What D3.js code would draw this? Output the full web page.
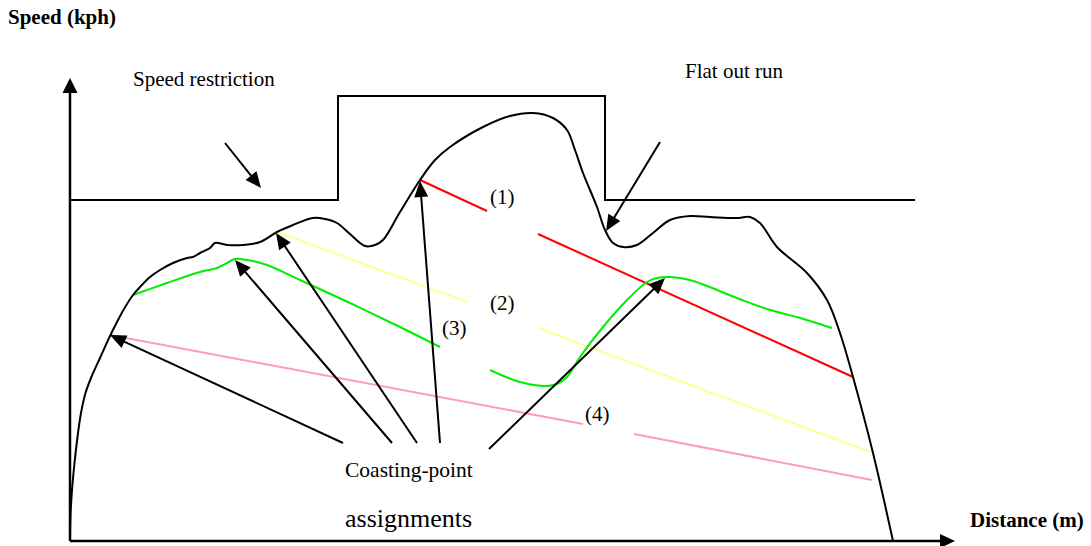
<!DOCTYPE html>
<html>
<head>
<meta charset="utf-8">
<script src="https://cdn.jsdelivr.net/npm/d3@7"></script>
<style>
  html, body { margin: 0; padding: 0; background: #fff; }
  svg { display: block; }
  text { font-family: "Liberation Serif", "Times New Roman", serif; fill: #000; }
</style>
</head>
<body>
<svg id="chart" width="1091" height="546"></svg>
<script>
// ---- data (distance in m, speed in arbitrary kph units) ----
const speedProfile = [
  [0,0],[0.5,26],[2,51],[4.5,78],[7.5,104],[11,128],[15.5,148],[21,163],[30,183],[40,205],
  [47,219],[54,232],[63,246],[70,254],[80,264],[90,271],[103,278],[117,283],[123,284],
  [130,288],[140,293],[145,298],[157,296],[173,296],[190,299],[207,309],[223,316],[243,323],
  [255,322],[267,318],[280,307],[295,295],[305,296],[313,301],[330,329],[350,361],[365,381],
  [380,394],[413,414],[440,425],[463,428],[483,423],[497,411],[505,391],[513,368],[527,334],
  [535,311],[543,298],[553,294],[567,296],[583,308],[600,321],[620,325],[640,324],[667,323],
  [675,324],[680,324],[690,318],[707,294],[737,268],[757,241],[770,208],[783,164],[803,88],[823,0]
];
const speedRestriction = [[0,341],[268,445],[535,341],[845,341]];
const coastGreenA = [[63,246],[97,258],[130,269],[147,273],[157,278],[165,282],[177,281],
  [197,276],[230,261],[280,238],[330,214],[370,194]];
const coastGreenB = [[420,171],[450,159],[477,155],[487,157],[497,164],[510,184],[533,214],
  [557,241],[577,259],[587,263],[600,264],[620,261],[667,243],[697,232],[730,223],[762,213]];
const coastRed = [[[350,361],[417,330]], [[468,307],[783,164]]];
const coastYellow = [[[207,309],[397,239]], [[468,213],[803,88]]];
const coastPink = [[[40,206],[513,117]], [[564,107],[802,61]]];
const pointerArrows = [
  [[273,98],[40,206]], [[322,98],[165,281]], [[347,98],[206,308]],
  [[370,98],[350,360]], [[419,92],[595,263]],
  [[155,398],[191,353]], [[590,399],[536,310]]
];
const labels = ["Speed (kph)", "Speed restriction", "Flat out run", "(1)", "(2)", "(3)", "(4)",
  "Coasting-point", "assignments", "Distance (m)"];
const labelAt = [[-62,517],[63,455],[615,463],[420,337],[420,231],[372,206],[515,120],
  [275,64],[275,14],[900,14]];
const labelSize = [21,21,21,21,21,21,21,21.5,26,21];
const labelBold = [true,false,false,false,false,false,false,false,false,true];

// ---- drawing ----
const svg = d3.select("#chart");
const x = d3.scaleLinear().domain([0, 885]).range([70, 955]);
const y = d3.scaleLinear().domain([0, 463]).range([541, 78]);

const line = d3.line().x(d => x(d[0])).y(d => y(d[1]));
const smooth = d3.line().x(d => x(d[0])).y(d => y(d[1])).curve(d3.curveCatmullRom.alpha(0.5));
const step = d3.line().x(d => x(d[0])).y(d => y(d[1])).curve(d3.curveStepAfter);

function arrow(g, from, to, color, headLen, headW, width) {
  const x1 = x(from[0]), y1 = y(from[1]), x2 = x(to[0]), y2 = y(to[1]);
  const dx = x2 - x1, dy = y2 - y1, L = Math.hypot(dx, dy);
  const ux = dx / L, uy = dy / L;
  const bx = x2 - ux * headLen, by = y2 - uy * headLen;
  g.append("line").attr("x1", x1).attr("y1", y1).attr("x2", bx + ux).attr("y2", by + uy)
    .attr("stroke", color).attr("stroke-width", width);
  g.append("path")
    .attr("d", `M${x2},${y2}L${bx - uy * headW / 2},${by + ux * headW / 2}L${bx + uy * headW / 2},${by - ux * headW / 2}Z`)
    .attr("fill", color);
}

// restriction step
svg.append("path").attr("d", step(speedRestriction)).attr("fill", "none")
  .attr("stroke", "#000").attr("stroke-width", 2);

// coloured coasting lines
coastRed.forEach(s => svg.append("path").attr("d", line(s)).attr("stroke", "#ff0000").attr("stroke-width", 2).attr("fill", "none"));
coastYellow.forEach(s => svg.append("path").attr("d", line(s)).attr("stroke", "#ffff99").attr("stroke-width", 2).attr("fill", "none"));
coastPink.forEach(s => svg.append("path").attr("d", line(s)).attr("stroke", "#ff99cc").attr("stroke-width", 2).attr("fill", "none"));
[coastGreenA, coastGreenB].forEach(s => svg.append("path").attr("d", smooth(s))
  .attr("stroke", "#00ee00").attr("stroke-width", 2).attr("fill", "none"));

// speed profile
svg.append("path").attr("d", smooth(speedProfile)).attr("fill", "none")
  .attr("stroke", "#000").attr("stroke-width", 2);

// axes
const ax = svg.append("g");
arrow(ax, [0, 0], [0, 463], "#000", 15, 15, 2.5);
arrow(ax, [0, 0], [885, 0], "#000", 15, 14, 2.5);

// pointer arrows
const pa = svg.append("g");
pointerArrows.forEach(a => arrow(pa, a[0], a[1], "#000", 16, 14, 2));

// labels
svg.append("g").selectAll("text").data(labels).join("text")
  .attr("x", (d, i) => x(labelAt[i][0]))
  .attr("y", (d, i) => y(labelAt[i][1]))
  .attr("font-size", (d, i) => labelSize[i])
  .attr("font-weight", (d, i) => labelBold[i] ? "bold" : "normal")
  .text(d => d);
</script>
</body>
</html>
